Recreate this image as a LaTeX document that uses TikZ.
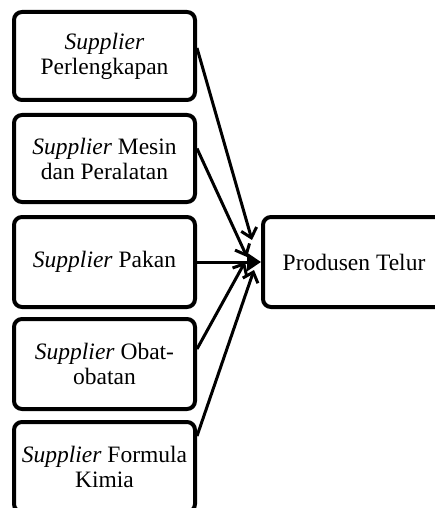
\documentclass[tikz,border=0pt]{standalone}
\usepackage{fontspec}
\setmainfont{Liberation Serif}
\usetikzlibrary{arrows.meta,calc}
\begin{document}
\begin{tikzpicture}[x=1pt,y=1pt,
  box/.style={draw, line width=4pt, rounded corners=8pt, fill=white,
    minimum width=181pt, minimum height=88pt, align=center, inner sep=2pt,
    font=\fontsize{23.5}{25}\selectfont},
  conn/.style={line width=3pt, -{Straight Barb[length=9pt,width=16pt,line width=3pt]}},
  connh/.style={line width=3pt, -{Triangle[length=14pt,width=18pt]}}]
\useasboundingbox (0,0) rectangle (435,-508);
\node[box, minimum height=88pt] (b1) at (104.5,-56) {\textit{Supplier}\\Perlengkapan};
\node[box, minimum height=87pt] (b2) at (104.5,-158.5) {\textit{Supplier} Mesin\\dan Peralatan};
\node[box, minimum height=90pt] (b3) at (104.5,-262) {\textit{Supplier} Pakan};
\node[box, minimum height=90pt] (b4) at (104.5,-364) {\textit{Supplier} Obat-\\obatan};
\node[box, minimum height=90pt] (b5) at (104.5,-467) {\textit{Supplier} Formula\\Kimia};
\node[box, minimum width=182pt, minimum height=90pt] (pt) at (354,-262) {Produsen Telur};
\coordinate (t1) at (252,-240);
\coordinate (t2) at (247,-257);
\coordinate (t4) at (245,-262);
\coordinate (t5) at (254,-270);
\draw[conn] ($(b1.east)+(0,8)$) -- (t1);
\draw[conn] ($(b2.east)+(0,10)$) -- (t2);
\draw[connh] (b3.east) -- (pt.west);
\draw[conn] ($(b4.east)+(0,15)$) -- (t4);
\draw[conn] ($(b5.east)+(0,31)$) -- (t5);
\end{tikzpicture}
\end{document}
